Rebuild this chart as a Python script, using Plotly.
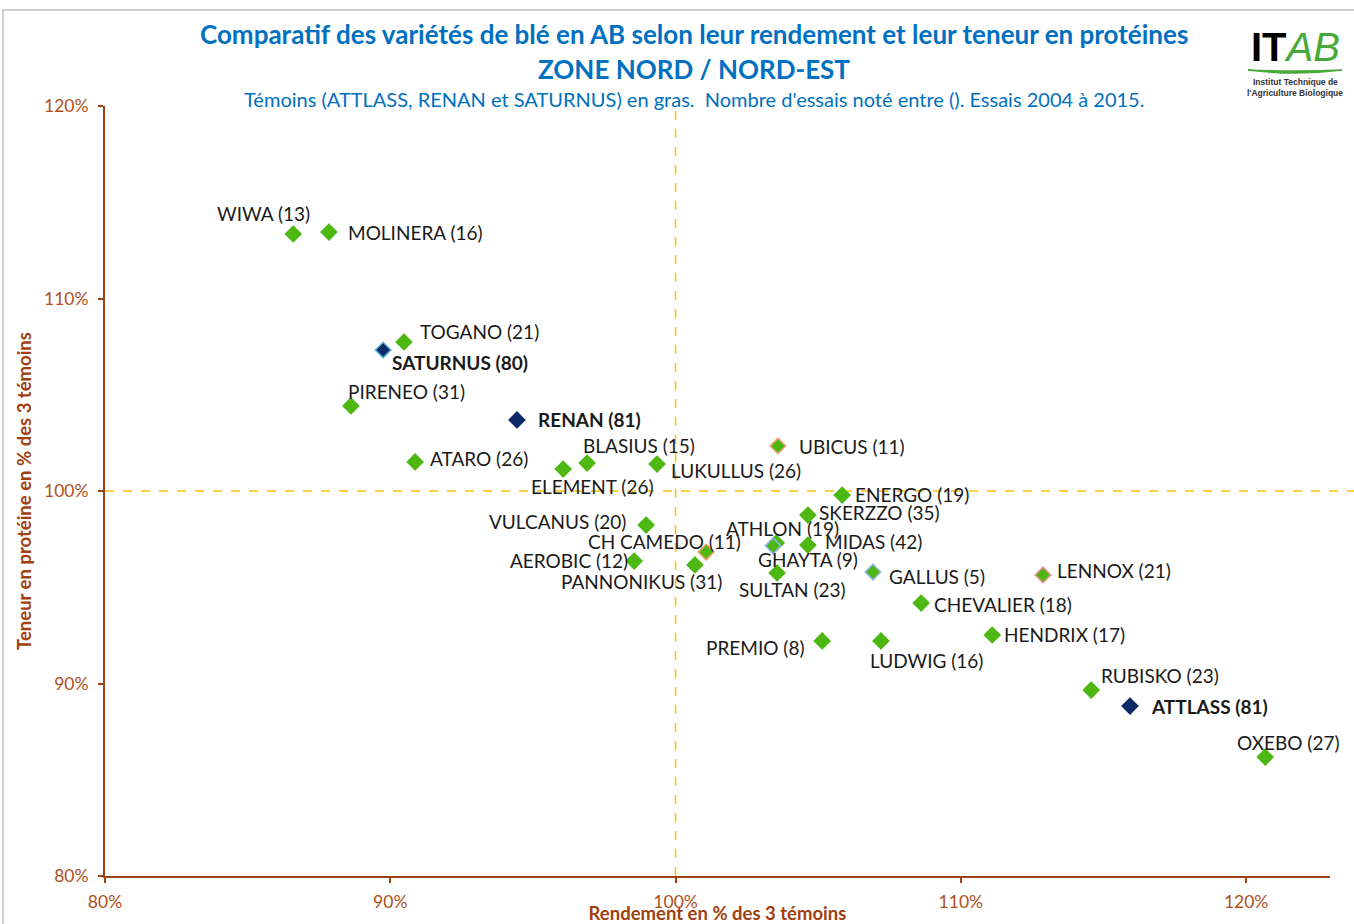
import plotly.graph_objects as go

# ---- data ----
varieties = ["WIWA", "MOLINERA", "TOGANO", "SATURNUS", "PIRENEO", "RENAN", "ATARO",
             "ELEMENT", "BLASIUS", "LUKULLUS", "UBICUS", "ENERGO", "SKERZZO", "VULCANUS",
             "ATHLON", "CH CAMEDO", "MIDAS", "GHAYTA", "AEROBIC", "PANNONIKUS", "SULTAN",
             "GALLUS", "LENNOX", "CHEVALIER", "PREMIO", "LUDWIG", "HENDRIX", "RUBISKO",
             "ATTLASS", "OXEBO"]
n_trials = [13, 16, 21, 80, 31, 81, 26, 26, 15, 26, 11, 19, 35, 20, 19, 11, 42, 9, 12, 31,
            23, 5, 21, 18, 8, 16, 17, 23, 81, 27]
rendement = [86.6, 87.85, 90.48, 89.75, 88.62, 94.44, 90.87, 96.06, 96.90, 99.35, 103.59,
             105.84, 104.64, 98.97, 103.53, 101.07, 104.64, 103.42, 98.55, 100.68, 103.56,
             106.92, 112.88, 108.61, 105.14, 107.20, 111.10, 114.57, 115.93, 120.67]
proteines = [113.35, 113.45, 107.74, 107.32, 104.42, 103.69, 101.51, 101.14, 101.45, 101.40,
             102.34, 99.79, 98.75, 98.23, 97.30, 96.83, 97.19, 97.15, 96.36, 96.16, 95.74,
             95.79, 95.64, 94.18, 92.21, 92.21, 92.52, 89.66, 88.83, 86.18]
temoins = ["SATURNUS", "RENAN", "ATTLASS"]
x_ticks = [80, 90, 100, 110, 120]
y_ticks = [80, 90, 100, 110, 120]

# ---- styles ----
GREEN = "#4DB811"
NAVY = "#0D2A66"
BROWN = "#A0400E"
BLUE = "#0070C0"
border = {"SATURNUS": "#5BB4E0", "UBICUS": "#F2A080", "CH CAMEDO": "#F09A60",
          "GHAYTA": "#8FB4E8", "GALLUS": "#8FB4E8", "LENNOX": "#E89090"}
# label offsets in pixels (dx, dy screen-down), anchor
label_pos = {
    "WIWA": (-78, -21, "left"), "MOLINERA": (17, 0, "left"), "TOGANO": (14, -11, "left"),
    "SATURNUS": (7, 12, "left"), "PIRENEO": (-5, -14, "left"), "RENAN": (19, 0, "left"),
    "ATARO": (13, -3, "left"), "ELEMENT": (-34, 17, "left"), "BLASIUS": (-6, -18, "left"),
    "LUKULLUS": (12, 6, "left"), "UBICUS": (19, 1, "left"), "ENERGO": (11, -1, "left"),
    "SKERZZO": (9, -3, "left"), "VULCANUS": (-18, -4, "right"), "ATHLON": (-52, -14, "left"),
    "CH CAMEDO": (-120, -11, "left"), "MIDAS": (15, -4, "left"), "GHAYTA": (-17, 14, "left"),
    "AEROBIC": (-4, -1, "right"), "PANNONIKUS": (-136, 17, "left"), "SULTAN": (-40, 16, "left"),
    "GALLUS": (14, 4, "left"), "LENNOX": (12, -4, "left"), "CHEVALIER": (11, 1, "left"),
    "PREMIO": (-15, 7, "right"), "LUDWIG": (-13, 20, "left"), "HENDRIX": (10, 0, "left"),
    "RUBISKO": (8, -15, "left"), "ATTLASS": (19, 0, "left"), "OXEBO": (-30, -15, "left"),
}

FONT = "Lato"
L, R, T, B = 105, 24, 106, 48
W, H = 1354, 924
PW, PH = W - L - R, H - T - B


def px(x):
    return (x - L) / PW


def py(y):
    return (H - B - y) / PH


fill = [NAVY if v in temoins else GREEN for v in varieties]
line_col = [border.get(v, fill[i]) for i, v in enumerate(varieties)]

fig = go.Figure()
fig.add_trace(go.Scatter(
    x=rendement, y=proteines, mode="markers",
    marker=dict(symbol="diamond", size=12, color=fill,
                line=dict(color=line_col, width=1.5)),
    hovertext=varieties, showlegend=False))

# reference lines
fig.add_shape(type="line", xref="x", yref="paper", x0=100, x1=100, y0=0, y1=py(108),
              line=dict(color="#FFC000", width=1.5, dash="dash"), layer="below")
fig.add_shape(type="line", xref="paper", yref="y", x0=0, x1=px(1354), y0=100, y1=100,
              line=dict(color="#FFC000", width=1.5, dash="dash"), layer="below")

for i, v in enumerate(varieties):
    dx, dy, anc = label_pos[v]
    txt = f"{v} ({n_trials[i]})"
    if v in temoins:
        txt = f"<b>{txt}</b>"
    fig.add_annotation(x=rendement[i], y=proteines[i], text=txt, showarrow=False,
                       xanchor=anc, yanchor="middle", xshift=dx, yshift=-dy,
                       font=dict(family=FONT, size=19, color="#1a1a1a"))

# titles
fig.add_annotation(xref="paper", yref="paper", x=px(694), y=py(34), yanchor="middle",
                   text="<b>Comparatif des variétés de blé en AB selon leur rendement et leur teneur en protéines</b>",
                   showarrow=False, font=dict(family=FONT, size=26, color=BLUE))
fig.add_annotation(xref="paper", yref="paper", x=px(694), y=py(69), yanchor="middle",
                   text="<b>ZONE NORD / NORD-EST</b>",
                   showarrow=False, font=dict(family=FONT, size=26, color=BLUE))
fig.add_annotation(xref="paper", yref="paper", x=px(694), y=py(99), yanchor="middle",
                   text="Témoins (ATTLASS, RENAN et SATURNUS) en gras.  Nombre d'essais noté entre (). Essais 2004 à 2015.",
                   showarrow=False, font=dict(family=FONT, size=20, color=BLUE))

# logo
fig.add_annotation(xref="paper", yref="paper", x=px(1295), y=py(47), xanchor="center", yanchor="middle",
                   text="<b>IT</b><i><span style='color:#49A83A'>AB</span></i>", showarrow=False,
                   font=dict(family="Liberation Sans", size=40, color="black"))
fig.add_shape(type="path", xref="paper", yref="paper",
              path=f"M {px(1248)} {py(70)} Q {px(1295)} {py(76)} {px(1342)} {py(70)} "
                   f"Q {px(1295)} {py(72)} {px(1248)} {py(70)} Z",
              line=dict(color="#49A83A", width=1.5), fillcolor="#49A83A")
fig.add_annotation(xref="paper", yref="paper", x=px(1295), y=py(82), xanchor="center", yanchor="middle",
                   text="<b>Institut Technique de</b>", showarrow=False,
                   font=dict(family="Liberation Sans", size=8.5, color="#333333"))
fig.add_annotation(xref="paper", yref="paper", x=px(1295), y=py(93), xanchor="center", yanchor="middle",
                   text="<b>l'Agriculture Biologique</b>", showarrow=False,
                   font=dict(family="Liberation Sans", size=8.5, color="#333333"))

# outer border
fig.add_shape(type="rect", xref="paper", yref="paper", x0=px(3), x1=px(1370), y0=py(940), y1=py(10),
              line=dict(color="#BFBFBF", width=1.5), layer="below")

fig.update_layout(
    width=W, height=H,
    margin=dict(l=L, r=R, t=T, b=B),
    paper_bgcolor="white", plot_bgcolor="white",
    font=dict(family=FONT),
    xaxis=dict(range=[80, 122.94], tickvals=x_ticks, ticktext=[f"{t}%" for t in x_ticks],
               showgrid=False, zeroline=False, showline=True, linecolor=BROWN, linewidth=2,
               ticks="outside", ticklen=5, tickcolor=BROWN, tickwidth=1.5, automargin=False,
               ticklabelstandoff=4,
               tickfont=dict(family=FONT, size=17.5, color="#B0501A"),
               title=dict(text="<b>Rendement en % des 3 témoins</b>", standoff=0,
                          font=dict(family=FONT, size=18.5, color=BROWN))),
    yaxis=dict(range=[80, 120], tickvals=y_ticks, ticktext=[f"{t}%" for t in y_ticks],
               showgrid=False, zeroline=False, showline=True, linecolor=BROWN, linewidth=2,
               ticks="outside", ticklen=5, tickcolor=BROWN, tickwidth=1.5, automargin=False,
               ticklabelstandoff=6,
               tickfont=dict(family=FONT, size=17.5, color="#B0501A"),
               title=dict(text="<b>Teneur en protéine en % des 3 témoins</b>", standoff=8,
                          font=dict(family=FONT, size=18.5, color=BROWN))),
)

fig.write_html("out.html", config={"displayModeBar": False},
               post_script="document.body.style.margin='0';")
